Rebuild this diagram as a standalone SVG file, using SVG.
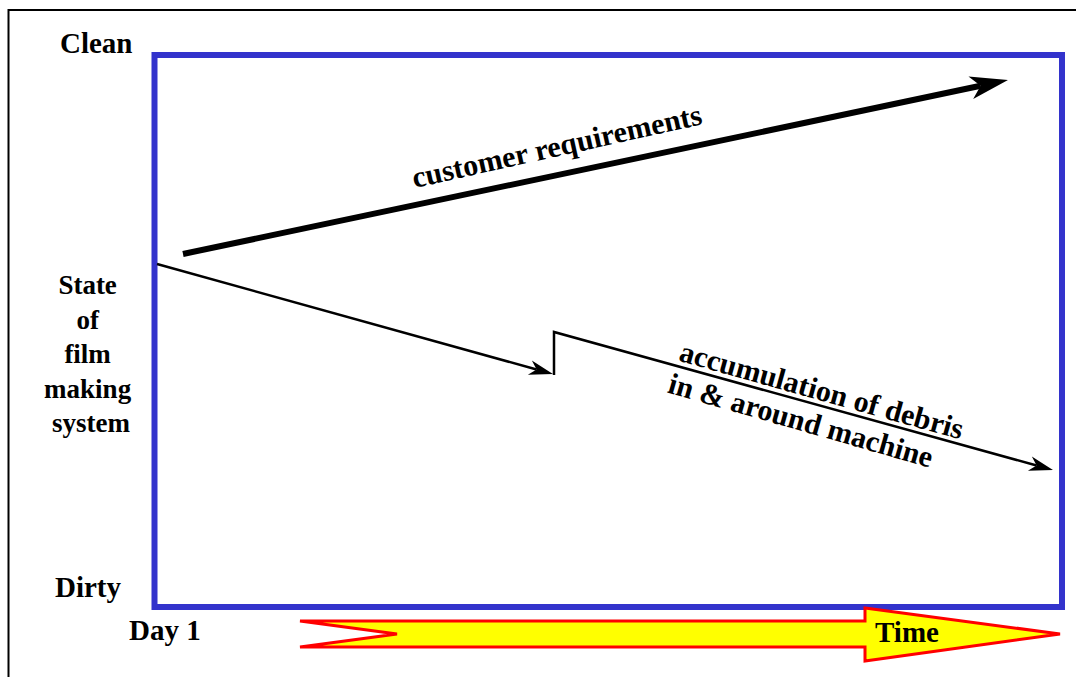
<svg xmlns="http://www.w3.org/2000/svg" width="1076" height="677" viewBox="0 0 1076 677">
  <style>
    .lbl { font-family: "Liberation Serif", "Times New Roman", serif; font-weight: bold; fill: #000; }
    .big { font-size: 29px; }
    .axis { font-size: 27px; }
    .trend { font-size: 30px; }
    .thin { fill: none; stroke: #000; stroke-width: 2.5; }
  </style>
  <defs>
    <marker id="headBig" markerUnits="userSpaceOnUse" markerWidth="38" markerHeight="23" refX="10" refY="11.5" orient="auto" overflow="visible">
      <path d="M0,0 L38,11.5 L0,23 L10,11.5 Z" fill="#000"/>
    </marker>
    <marker id="headSmall" markerUnits="userSpaceOnUse" markerWidth="24" markerHeight="15" refX="7" refY="7.5" orient="auto" overflow="visible">
      <path d="M0,0 L24,7.5 L0,15 L7,7.5 Z" fill="#000"/>
    </marker>
  </defs>

  <rect width="1076" height="677" fill="#fff"/>

  <!-- page frame -->
  <path d="M8.5,677 V10 H1076" fill="none" stroke="#000" stroke-width="2"/>

  <!-- plot area -->
  <g id="plot">
    <rect x="154.5" y="55" width="907.5" height="552" fill="none" stroke="#3333cc" stroke-width="6"/>
  </g>

  <!-- axis labels -->
  <g id="label-clean"><text class="lbl big" x="60" y="53">Clean</text></g>
  <g id="label-dirty"><text class="lbl big" x="55" y="597">Dirty</text></g>
  <g id="label-day1"><text class="lbl big" x="129" y="640">Day 1</text></g>
  <g id="label-state">
    <text class="lbl axis" text-anchor="middle">
      <tspan x="91" y="294">State</tspan>
      <tspan x="91" y="328.5">of</tspan>
      <tspan x="91" y="363">film</tspan>
      <tspan x="91" y="397.5">making</tspan>
      <tspan x="91" y="432">system</tspan>
    </text>
  </g>

  <!-- time axis arrow -->
  <g id="time-arrow">
    <polygon points="300,621 397,634 300,647 865,647 865,661 1060,634 865,608 865,621" fill="#ffff00" stroke="#ff0000" stroke-width="3" stroke-linejoin="miter"/>
    <text class="lbl big" x="875" y="642">Time</text>
  </g>

  <!-- trend lines -->
  <g id="connectors">
    <line x1="183" y1="254" x2="980.6" y2="85.8" stroke="#000" stroke-width="6" marker-end="url(#headBig)"/>
    <path class="thin" d="M157,264 L536.6,369.5" marker-end="url(#headSmall)"/>
    <path class="thin" d="M554,375 L554,332 L1036.6,465.5" marker-end="url(#headSmall)"/>
  </g>

  <g id="label-customer">
    <text class="lbl trend" text-anchor="middle" transform="translate(559,156) rotate(-12.5)">customer requirements</text>
  </g>
  <g id="label-debris">
    <text class="lbl trend" text-anchor="middle" transform="translate(819,400) rotate(15.6)">accumulation of debris</text>
    <text class="lbl trend" text-anchor="middle" transform="translate(798,430) rotate(16)">in &amp; around machine</text>
  </g>
</svg>
